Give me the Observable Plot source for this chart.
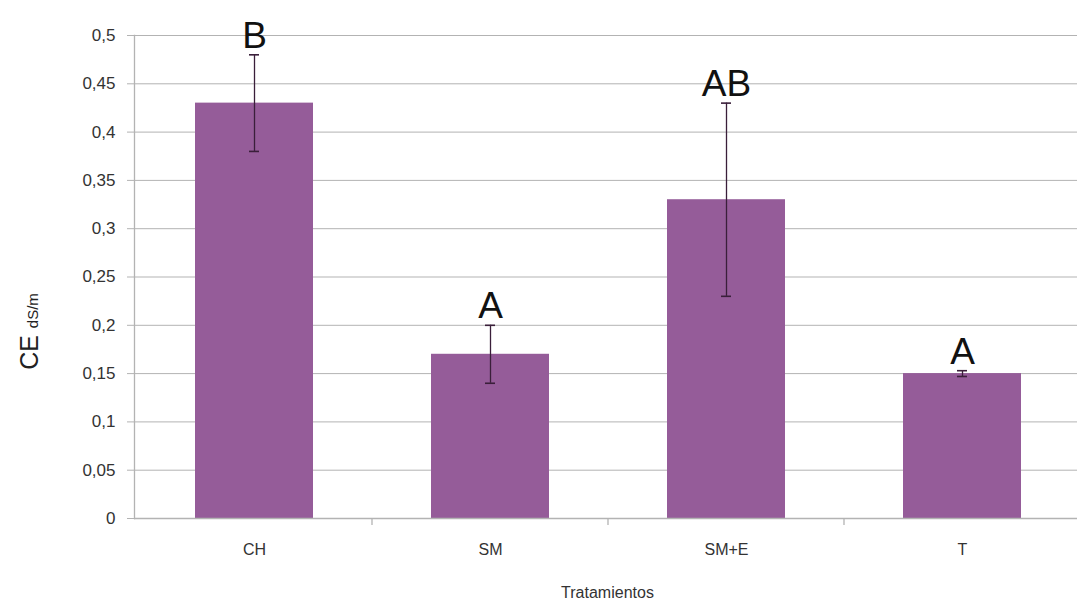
<!DOCTYPE html>
<html>
<head>
<meta charset="utf-8">
<script src="https://cdn.jsdelivr.net/npm/d3@7"></script>
<script src="https://cdn.jsdelivr.net/npm/@observablehq/plot@0.6"></script>
<style>
  html, body { margin: 0; padding: 0; background: #fff; }
  #chart svg { display: block; }
</style>
</head>
<body>
<div id="chart"></div>
<script>
const categories = ["CH", "SM", "SM+E", "T"];
const means = [0.43, 0.17, 0.33, 0.15];
const lows = [0.38, 0.14, 0.23, 0.147];
const highs = [0.48, 0.20, 0.43, 0.153];
const letters = ["B", "A", "AB", "A"];
const yTicks = [0, 0.05, 0.1, 0.15, 0.2, 0.25, 0.3, 0.35, 0.4, 0.45, 0.5];

const data = categories.map((c, i) => ({cat: c, mean: means[i], lo: lows[i], hi: highs[i], letter: letters[i]}));
const fmt = d => String(d).replace(".", ",");
const font = "'Liberation Sans', Arial, sans-serif";

const chart = Plot.plot({
  width: 1077,
  height: 608,
  marginLeft: 134,
  marginRight: -4,
  marginTop: 35,
  marginBottom: 90,
  style: {fontFamily: font, background: "#fff"},
  x: {domain: categories, paddingInner: 0.5, paddingOuter: 0.25, label: null},
  y: {domain: [0, 0.5], label: null},
  marks: [
    Plot.gridY(yTicks, {stroke: "#b3b3b3", strokeOpacity: 1}),
    Plot.barY(data, {x: "cat", y: "mean", fill: "#955c99"}),
    Plot.ruleX(data, {x: "cat", y1: "lo", y2: "hi", stroke: "#3a1f3a", strokeWidth: 1.3}),
    Plot.tickY(data, {x: "cat", y: "lo", stroke: "#3a1f3a", strokeWidth: 1.6, insetLeft: 54, insetRight: 54}),
    Plot.tickY(data, {x: "cat", y: "hi", stroke: "#3a1f3a", strokeWidth: 1.6, insetLeft: 54, insetRight: 54}),
    Plot.text(data, {x: "cat", y: "hi", text: "letter", lineAnchor: "bottom", dy: -7, fontSize: 37, fill: "#111"}),
    Plot.ruleY([0], {stroke: "#b3b3b3", strokeWidth: 1.3}),
    Plot.axisY({ticks: yTicks, tickFormat: fmt, tickSize: 7, tickPadding: 12, fontSize: 17, color: "#333", stroke: "#b3b3b3"}),
    Plot.frame({anchor: "left", stroke: "#b3b3b3", strokeWidth: 1.3}),
    Plot.axisX({tickSize: 0, tickPadding: 25, fontSize: 16, color: "#333"})
  ]
});

// boundary ticks on x axis using the library's x scale
const xs = chart.scale("x");
const ys = chart.scale("y");
const svg = d3.select(chart);
const step = xs.step;
const y0 = ys.apply(0);
const bounds = categories.slice(1).map(c => xs.apply(c) - (step - xs.bandwidth) / 2);
svg.append("g").selectAll("line").data(bounds).join("line")
  .attr("x1", d => d).attr("x2", d => d)
  .attr("y1", y0).attr("y2", y0 + 7)
  .attr("stroke", "#b3b3b3").attr("stroke-width", 1.3);

// x axis title
svg.append("text")
  .attr("x", (xs.range[0] + xs.range[1]) / 2).attr("y", 598)
  .attr("text-anchor", "middle")
  .attr("font-family", font).attr("font-size", 16).attr("fill", "#333")
  .text("Tratamientos");

// y axis title with mixed sizes
const yt = svg.append("text")
  .attr("transform", `translate(38, ${(ys.range[0] + ys.range[1]) / 2 + 55}) rotate(-90)`)
  .attr("text-anchor", "middle")
  .attr("font-family", font).attr("fill", "#222");
yt.append("tspan").attr("font-size", 25).text("CE ");
yt.append("tspan").attr("font-size", 15).text("dS/m");

document.getElementById("chart").appendChild(chart);
</script>
</body>
</html>
